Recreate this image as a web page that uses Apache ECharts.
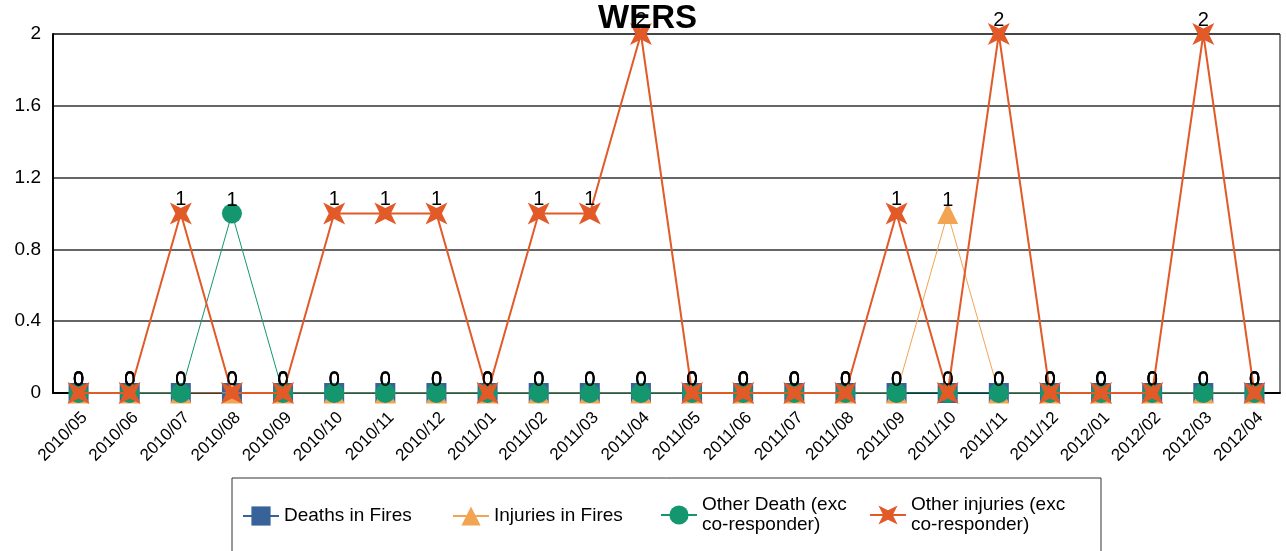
<!DOCTYPE html>
<html><head><meta charset="utf-8">
<script src="https://cdn.jsdelivr.net/npm/echarts@6/dist/echarts.min.js"></script>
<style>html,body{margin:0;padding:0;background:#fff}#c{width:1286px;height:551px}</style>
</head><body><div id="c"></div>
<script>
const categories = ['2010/05','2010/06','2010/07','2010/08','2010/09','2010/10','2010/11','2010/12','2011/01','2011/02','2011/03','2011/04','2011/05','2011/06','2011/07','2011/08','2011/09','2011/10','2011/11','2011/12','2012/01','2012/02','2012/03','2012/04'];
const deathsInFires   = [0,0,0,0,0,0,0,0,0,0,0,0,0,0,0,0,0,0,0,0,0,0,0,0];
const injuriesInFires = [0,0,0,0,0,0,0,0,0,0,0,0,0,0,0,0,0,1,0,0,0,0,0,0];
const otherDeath      = [0,0,0,1,0,0,0,0,0,0,0,0,0,0,0,0,0,0,0,0,0,0,0,0];
const otherInjuries   = [0,0,1,0,0,1,1,1,0,1,1,2,0,0,0,0,1,0,2,0,0,0,2,0];
const yTicks = [0, 0.4, 0.8, 1.2, 1.6, 2];
const seriesNames = ['Deaths in Fires','Injuries in Fires','Other Death (exc\nco-responder)','Other injuries (exc\nco-responder)'];

const STAR = 'path://M0,0 L10,5 L20,0 L15,10 L20,20 L10,15 L0,20 L5,10 Z';
const colors = ['#386399','#f2a452','#14966f','#e25a27'];
const font = 'Liberation Sans, Arial, sans-serif';

const lbl = {show:true, position:'top', distance:-7, color:'#000', fontSize:20, fontFamily:font};

function mk(i, data, symbol, size, lw){
  return {name:seriesNames[i], type:'line', data:data, symbol:symbol, symbolSize:size,
    showAllSymbol:true, animation:false,
    itemStyle:{color:colors[i]}, lineStyle:{color:colors[i], width:lw},
    label:lbl, z:2+i};
}

const legendX = [237, 447, 655, 864];
const legendTop = [501, 501, 490, 490];
const legends = seriesNames.map((n,i)=>({
  data:[n], left:legendX[i], top:legendTop[i], itemWidth:36, itemHeight:24, itemGap:0,
  textStyle:{fontSize:19, fontFamily:font, color:'#000', lineHeight:20},
  selectedMode:false
}));

const chart = echarts.init(document.getElementById('c'), null, {renderer:'canvas'});
chart.setOption({
  backgroundColor:'#fff',
  animation:false,
  title:{text:'WERS', left:593, top:-3, textStyle:{fontSize:33, fontWeight:'bold', fontFamily:font, color:'#000'}},
  grid:{left:53, right:6, top:34, bottom:158, show:true, borderColor:'#000', borderWidth:1},
  legend:legends,
  graphic:[{type:'rect', shape:{x:232, y:478, width:869, height:100}, style:{fill:'none', stroke:'#333', lineWidth:1}, z:-1}],
  xAxis:{type:'category', data:categories, boundaryGap:true,
    axisLine:{lineStyle:{color:'#000', width:2}}, axisTick:{show:false},
    axisLabel:{rotate:45, fontSize:17, fontFamily:font, color:'#000', margin:16, interval:0, verticalAlign:'top'}},
  yAxis:{type:'value', min:0, max:2, interval:0.4,
    axisLine:{show:true, lineStyle:{color:'#000', width:2}}, axisTick:{show:false},
    axisLabel:{fontSize:19, fontFamily:font, color:'#000', margin:12,
      formatter:v=>{const t=yTicks.find(x=>Math.abs(x-v)<1e-9); return t===undefined?'':String(t);}},
    splitLine:{lineStyle:{color:'#333', width:1.5}}},
  series:[
    mk(0, deathsInFires, 'rect', 20, 1),
    mk(1, injuriesInFires, 'triangle', 21, 1),
    mk(2, otherDeath, 'circle', 20, 1),
    mk(3, otherInjuries, STAR, 22, 2)
  ]
});
</script></body></html>
